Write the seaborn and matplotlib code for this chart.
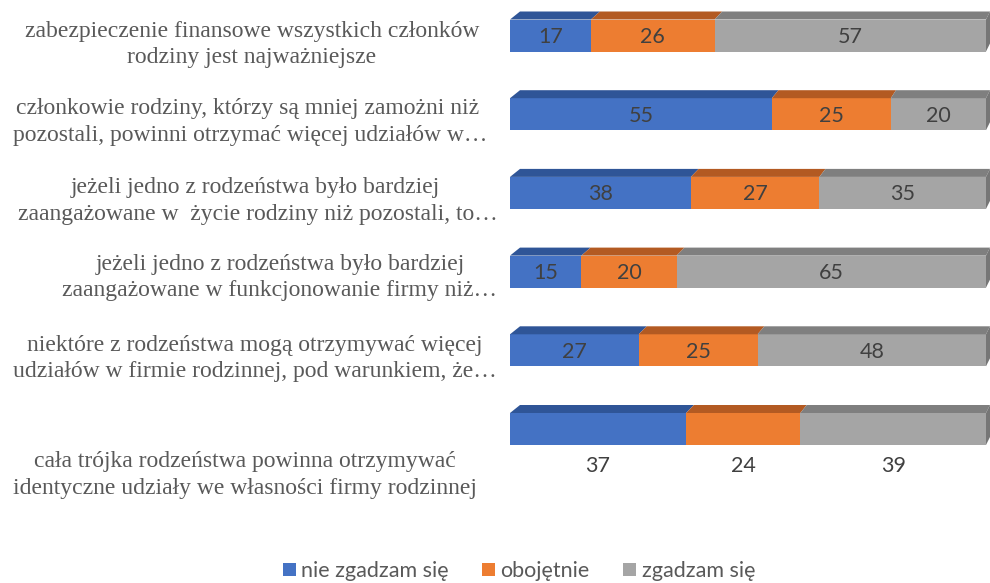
import numpy as np
import pandas as pd
import matplotlib
matplotlib.use("Agg")
import matplotlib.pyplot as plt
from matplotlib.patches import Patch, Polygon
import seaborn as sns

# --- data -------------------------------------------------------------
categories = [
    "zabezpieczenie finansowe wszystkich członków\nrodziny jest najważniejsze",
    "członkowie rodziny, którzy są mniej zamożni niż \npozostali, powinni otrzymać więcej udziałów w…",
    "jeżeli jedno z rodzeństwa było bardziej \nzaangażowane w  życie rodziny niż pozostali, to…",
    "jeżeli jedno z rodzeństwa było bardziej\nzaangażowane w funkcjonowanie firmy niż…",
    "niektóre z rodzeństwa mogą otrzymywać więcej\nudziałów w firmie rodzinnej, pod warunkiem, że…",
    "cała trójka rodzeństwa powinna otrzymywać\nidentyczne udziały we własności firmy rodzinnej",
]
series = ["nie zgadzam się", "obojętnie", "zgadzam się"]
disagree = [17, 55, 38, 15, 27, 37]
neutral = [26, 25, 27, 20, 25, 24]
agree = [57, 20, 35, 65, 48, 39]

front_colors = ["#4472C4", "#ED7D31", "#A5A5A5"]
top_colors = ["#2F5597", "#B35A22", "#7F7F7F"]
side_color = "#767676"
label_color = "#404040"

values = np.array([disagree, neutral, agree], dtype=float)
ends = values.cumsum(axis=0)
starts = ends - values

rows = []
for si, s in enumerate(series):
    for ci, c in enumerate(categories):
        rows.append({"category": c, "series": s, "end": ends[si, ci],
                     "start": starts[si, ci], "value": values[si, ci]})
df = pd.DataFrame(rows)

# --- figure -----------------------------------------------------------
sns.set_theme(style="white")
W, H = 990, 583
fig = plt.figure(figsize=(W / 100, H / 100), dpi=100)
fig.patch.set_facecolor("white")

px_left, px_right = 510, 986
px_top, px_bottom = 0, 500
ax = fig.add_axes([px_left / W, 1 - px_bottom / H,
                   (px_right - px_left) / W, (px_bottom - px_top) / H])

row_gap_px = 78.7
first_center_px = 35.5
bar_h = 32 / row_gap_px

# stacked bars: widest cumulative layer first so shorter layers sit on top
for si in reversed(range(len(series))):
    sub = df[df["series"] == series[si]]
    sns.barplot(data=sub, x="end", y="category", order=categories,
                color=front_colors[si], saturation=1, width=bar_h,
                orient="h", ax=ax, linewidth=0, errorbar=None)

y_lo = -first_center_px / row_gap_px
y_hi = (px_bottom - first_center_px) / row_gap_px
ax.set_ylim(y_hi, y_lo)
ax.set_xlim(0, 100)
ax.set_axis_off()

# bevelled top faces with a little perspective, plus the right-hand side
px_per_x = (px_right - px_left) / 100.0
depth_dx = 10 / px_per_x
back_scale = 470 / 476
depth_dy = 8 / row_gap_px


def back_x(x):
    return depth_dx + x * back_scale


for ci in range(len(categories)):
    y_top = ci - bar_h / 2
    y_bot = ci + bar_h / 2
    for si in range(len(series)):
        x0, x1 = starts[si, ci], ends[si, ci]
        poly = Polygon([(x0, y_top), (x1, y_top),
                        (back_x(x1), y_top - depth_dy), (back_x(x0), y_top - depth_dy)],
                       closed=True, facecolor=top_colors[si], edgecolor="none",
                       clip_on=False, zorder=3)
        ax.add_patch(poly)
    xe = ends[-1, ci]
    side = Polygon([(xe, y_top), (back_x(xe), y_top - depth_dy),
                    (back_x(xe), y_bot - depth_dy), (xe, y_bot)],
                   closed=True, facecolor=side_color, edgecolor="none",
                   clip_on=False, zorder=3)
    ax.add_patch(side)

# value labels
num_font = dict(family=["Lato", "DejaVu Sans"], fontsize=15.5, color=label_color)
last = len(categories) - 1
for ci in range(len(categories)):
    for si in range(len(series)):
        xc = (starts[si, ci] + ends[si, ci]) / 2
        yc = ci + 1.5 / row_gap_px if ci != last else ci + 37.5 / row_gap_px
        ax.text(xc, yc, f"{values[si, ci]:.0f}", ha="center", va="center",
                zorder=5, **num_font)

# category labels on the left
label_x_px = [252, 250, 258, 280, 255, 245]
label_dy_px = [9, 8, 8, 6, 8, 46]
for ci, text in enumerate(categories):
    y = ci + label_dy_px[ci] / row_gap_px
    x = (label_x_px[ci] - px_left) / px_per_x
    ax.text(x, y, text, ha="center", va="center", multialignment="center",
            family=["Liberation Serif", "DejaVu Serif"], fontsize=17,
            color="#595959", linespacing=1.35, clip_on=False)

# legend
handles = [Patch(facecolor=c, edgecolor="none", label=s)
           for c, s in zip(front_colors, series)]
fig.legend(handles=handles, loc="center", bbox_to_anchor=(519 / W, 12 / H),
           ncol=3, frameon=False, handlelength=0.6, handleheight=0.6,
           handletextpad=0.25, columnspacing=1.55,
           prop={"family": ["Lato", "DejaVu Sans"], "size": 15.5},
           labelcolor="#595959")

fig.savefig("out.png", dpi=100, facecolor="white")
